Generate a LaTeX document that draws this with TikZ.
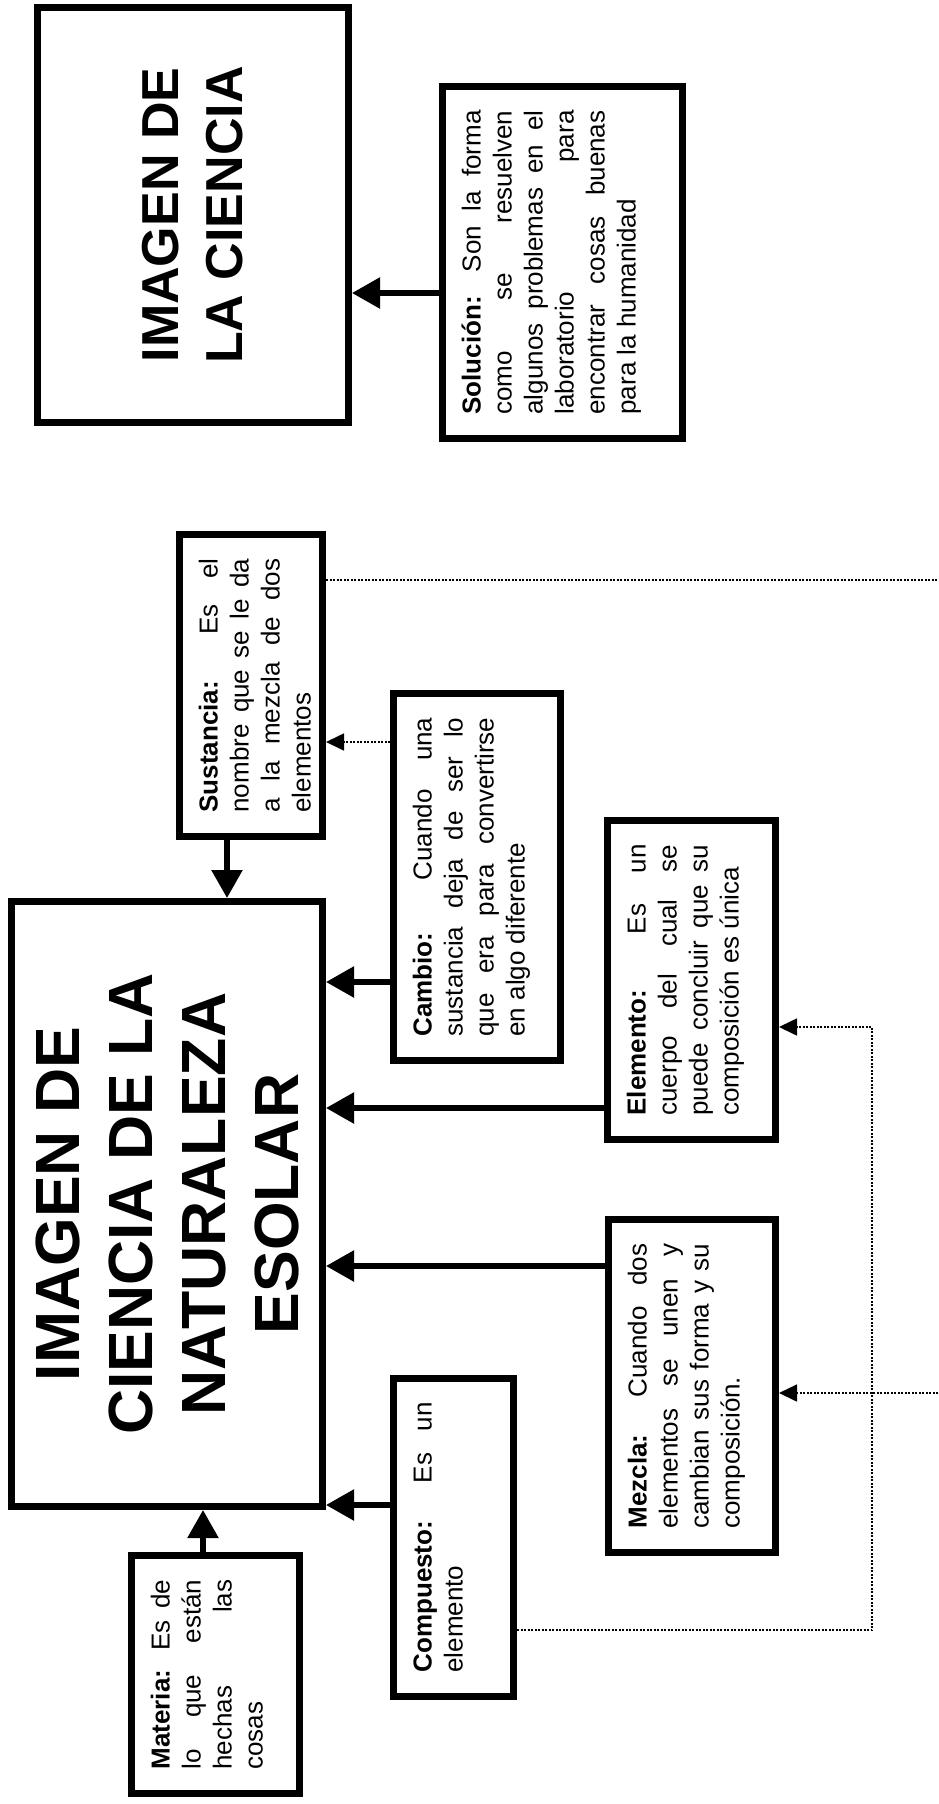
\documentclass[tikz,border=0pt]{standalone}
\usepackage{fontspec}
\setmainfont{Liberation Sans}
\usetikzlibrary{arrows.meta}
\tolerance=10000
\hbadness=10000

\begin{document}
\begin{tikzpicture}[x=1pt, y=-1pt,
    caja/.style={draw, line width=7pt, rotate=90, inner xsep=24pt, inner ysep=19pt, text height=19pt, align=justify, font=\fontsize{26pt}{31pt}\selectfont},
    titulo/.style={draw, line width=7pt, rotate=90, align=center, inner sep=0pt, font=\bfseries},
    flecha/.style={line width=5.5pt, -{Triangle[length=28pt, width=30pt]}},
    punteado/.style={line width=1.6pt, dash pattern=on 2pt off 1.5pt},
    flechapunteada/.style={punteado, -{Triangle[length=18pt, width=17pt]}}
]
\useasboundingbox (0,0) rectangle (938,1804);

% Titles
\node[titulo, minimum width=415pt, minimum height=311pt, font=\bfseries\fontsize{52pt}{64pt}\selectfont] (cie) at (193,215) {IMAGEN DE\\LA CIENCIA};
\node[titulo, minimum width=605pt, minimum height=311pt, font=\bfseries\fontsize{62.5pt}{73pt}\selectfont] (main) at (167,1204) {IMAGEN DE\\CIENCIA DE LA\\NATURALEZA\\ESOLAR};

% Definitions
\node[caja, text width=304pt, text depth=183pt] (sol) at (562.5,262.5) {\textbf{Solución:} Son la forma\linebreak como se resuelven\linebreak algunos problemas en el\linebreak laboratorio para\linebreak encontrar cosas buenas\linebreak para la humanidad};
\node[caja, text width=254pt, text depth=86pt] (sus) at (251,685.5) {\textbf{Sustancia:} Es el\linebreak nombre que se le da\linebreak a la mezcla de dos\linebreak elementos};
\node[caja, text width=319pt, text depth=110pt] (cam) at (477,877) {\textbf{Cambio:} Cuando una\linebreak sustancia deja de ser lo\linebreak que era para convertirse\linebreak en algo diferente};
\node[caja, text width=271pt, text depth=111pt] (ele) at (691.5,980) {\textbf{Elemento:} Es un\linebreak cuerpo del cual se\linebreak puede concluir que su\linebreak composición es única};
\node[caja, text width=285pt, text depth=110pt] (mez) at (692,1386) {\textbf{Mezcla:} Cuando dos\linebreak elementos se unen y\linebreak cambian sus forma y su\linebreak composición.};
\node[caja, text width=270pt, text depth=63pt] (cmp) at (453.5,1537.5) {\textbf{Compuesto:} Es un\linebreak elemento};
\node[caja, text width=190pt, text depth=111pt] (mat) at (215.5,1674.5) {\textbf{Materia:} Es de\linebreak lo que están\linebreak hechas las\linebreak cosas};

% Solid arrows
\draw[flecha] (sol.north |- 0,293) -- (cie.south |- 0,293);
\draw[flecha] (sus.west -| 227,0) -- (main.east -| 227,0);
\draw[flecha] (cam.north |- 0,982) -- (main.south |- 0,982);
\draw[flecha] (ele.north |- 0,1108) -- (main.south |- 0,1108);
\draw[flecha] (mez.north |- 0,1266) -- (main.south |- 0,1266);
\draw[flecha] (cmp.north |- 0,1505) -- (main.south |- 0,1505);
\draw[flecha] (mat.east -| 203,0) -- (main.west -| 203,0);

% Dotted links
\coordinate (borde1) at (938,580);
\coordinate (borde2) at (938,1393);
\coordinate (codo) at (872,1027);
\draw[flechapunteada] (cam.north |- 0,742) -- (sus.south |- 0,742);
\draw[punteado] (sus.south |- borde1) -- (borde1);
\draw[flechapunteada] (borde2) -- (mez.south |- borde2);
\draw[flechapunteada] (cmp.south |- 0,1630) -| (codo) -- (ele.south |- codo);

\end{tikzpicture}
\end{document}
